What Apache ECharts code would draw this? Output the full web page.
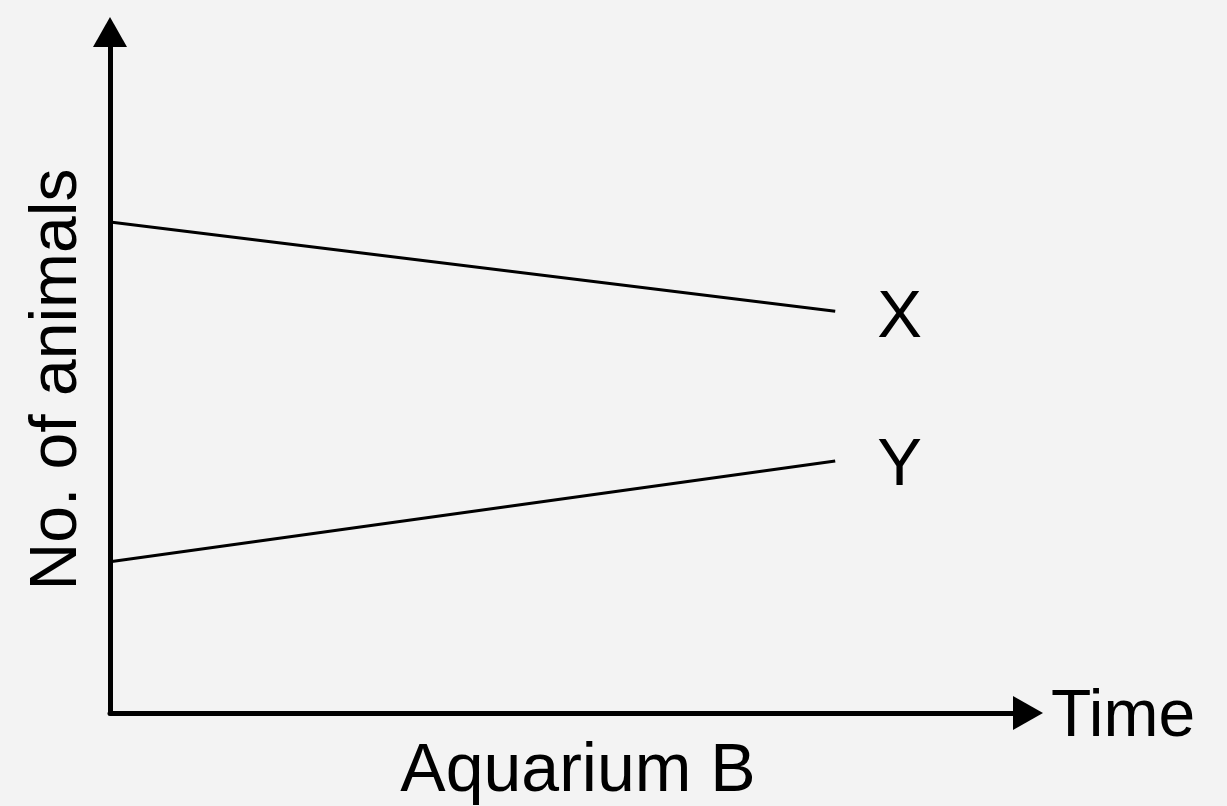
<!DOCTYPE html>
<html>
<head>
  <meta charset="UTF-8">
  <title>Aquarium B</title>
  <script src="https://cdn.jsdelivr.net/npm/echarts@6/dist/echarts.min.js"></script>
  <style>
    html, body {margin: 0; padding: 0; background: #f3f3f3;}
    #main {width: 1227px; height: 806px;}
  </style>
</head>
<body>
<div id="main"></div>
<script>
  // time positions where the two lines start and stop
  var times = [0, 7.9];
  // number of animals (axis 0..10)
  var seriesX = [7.21, 5.9];
  var seriesY = [2.22, 3.7];

  var font = '"Liberation Sans", Arial, sans-serif';

  function pairs(vals) {
    var res = [];
    for (var i = 0; i < vals.length; i++) {
      res.push([times[i], vals[i]]);
    }
    return res;
  }

  // solid triangle heads, centred on the axis end
  var axisLine = {
    show: true,
    symbol: ['none', 'triangle'],
    symbolSize: [34, 30],
    lineStyle: {color: '#000', width: 5}
  };

  var option = {
    backgroundColor: '#f3f3f3',
    animation: false,
    title: {
      text: 'Aquarium B',
      left: 573,
      textAlign: 'center',
      top: 733,
      textStyle: {color: '#000', fontSize: 68, fontWeight: 'normal', fontFamily: font}
    },
    grid: {left: 110, top: 32, width: 918, height: 681},
    xAxis: {
      type: 'value',
      min: 0,
      max: 10,
      name: 'Time',
      nameLocation: 'end',
      nameGap: 23,
      nameTextStyle: {color: '#000', fontSize: 66, fontFamily: font, verticalAlign: 'top', lineHeight: 10},
      axisLine: axisLine,
      axisTick: {show: false},
      axisLabel: {show: false},
      splitLine: {show: false}
    },
    yAxis: {
      type: 'value',
      min: 0,
      max: 10,
      name: 'No. of animals',
      nameLocation: 'middle',
      nameRotate: 90,
      nameGap: 19,
      nameTextStyle: {color: '#000', fontSize: 66, fontFamily: font, padding: [0, 14, 0, 0]},
      axisLine: axisLine,
      axisTick: {show: false},
      axisLabel: {show: false},
      splitLine: {show: false}
    },
    series: [{
      name: 'X',
      type: 'line',
      data: pairs(seriesX),
      symbol: 'none',
      lineStyle: {color: '#000', width: 3},
      endLabel: {
        show: true,
        formatter: '{a}',
        distance: 42,
        offset: [0, 7],
        color: '#000',
        fontSize: 67,
        fontFamily: font
      }
    }, {
      name: 'Y',
      type: 'line',
      data: pairs(seriesY),
      symbol: 'none',
      lineStyle: {color: '#000', width: 3},
      endLabel: {
        show: true,
        formatter: '{a}',
        distance: 42,
        offset: [0, 6],
        color: '#000',
        fontSize: 67,
        fontFamily: font
      }
    }]
  };

  echarts.init(document.getElementById('main')).setOption(option);
</script>
</body>
</html>
